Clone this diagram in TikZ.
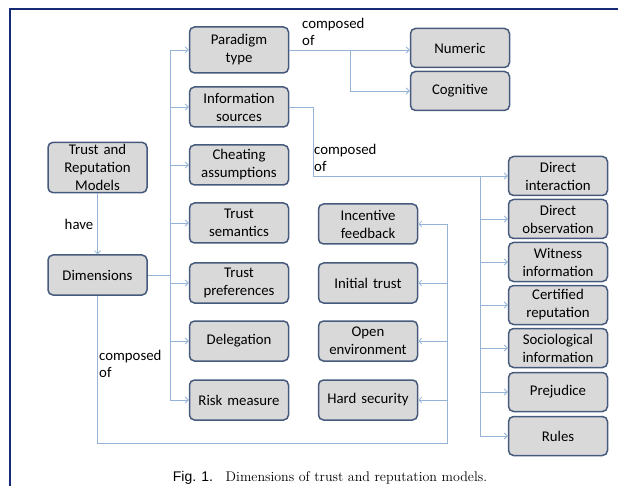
\documentclass[tikz,border=0pt]{standalone}
\usepackage{fontspec}
\setsansfont{Carlito}
\newfontfamily\figfont{Liberation Sans}
\usetikzlibrary{arrows.meta}
\definecolor{boxfill}{RGB}{217,217,217}
\definecolor{boxline}{RGB}{70,90,125}
\definecolor{linkblue}{RGB}{149,179,215}
\definecolor{framenavy}{RGB}{22,42,118}
\tikzset{
    dimbox/.style={draw=boxline, fill=boxfill, line width=1.5pt, rounded corners=5pt,
        minimum width=99pt, minimum height=40pt, text width=94pt, align=center,
        inner sep=2pt, font=\sffamily\fontsize{14.8}{18}\selectfont},
    link/.style={draw=linkblue, line width=0.8pt},
    arr/.style={link, -{Straight Barb[length=3pt,width=6pt]}},
    lbl/.style={font=\sffamily\fontsize{14.8}{17}\selectfont, align=left, inner sep=0pt},
}
\begin{document}
\begin{tikzpicture}[x=1pt, y=-1pt]
        \useasboundingbox (0,0) rectangle (618,486);
        \draw[framenavy, line width=2.5pt] (10,486) -- (10,9) -- (618,9);
        % left column
        \node[dimbox] (trm) at (97.5,167.5) {Trust and\\Reputation\\Models};
        \node[dimbox] (dim) at (97.5,275) {Dimensions};
        % dimensions
        \node[dimbox, minimum height=46pt] (para) at (239,50) {Paradigm\\type};
        \node[dimbox] (info) at (239,107) {Information\\sources};
        \node[dimbox] (cheat) at (239,165) {Cheating\\assumptions};
        \node[dimbox] (sem) at (239,223) {Trust\\semantics};
        \node[dimbox] (pref) at (239,283) {Trust\\preferences};
        \node[dimbox] (deleg) at (239,341) {Delegation};
        \node[dimbox] (risk) at (239,400) {Risk measure};
        % paradigm types
        \node[dimbox, minimum height=39pt] (num) at (460,48) {Numeric};
        \node[dimbox, minimum height=39pt] (cog) at (460,91) {Cognitive};
        % middle column
        \node[dimbox] (incent) at (368,224) {Incentive\\feedback};
        \node[dimbox] (inittr) at (368,283) {Initial trust};
        \node[dimbox] (openenv) at (368,341) {Open\\environment};
        \node[dimbox] (hard) at (368,400) {Hard security};
        % information sources
        \node[dimbox, minimum height=39pt] (dint) at (558,176) {Direct\\interaction};
        \node[dimbox, minimum height=39pt] (dobs) at (558,219) {Direct\\observation};
        \node[dimbox, minimum height=39pt] (wit) at (558,262) {Witness\\information};
        \node[dimbox, minimum height=39pt] (cert) at (558,305) {Certified\\reputation};
        \node[dimbox, minimum height=39pt] (soc) at (558,348) {Sociological\\information};
        \node[dimbox, minimum height=39pt] (prej) at (558,392) {Prejudice};
        \node[dimbox, minimum height=39pt] (rules) at (558,436) {Rules};

        \draw[arr] (trm) -- (dim);
        \node[lbl] (have) at (79,224) {have};

        \coordinate (jl) at (170,275);
        \draw[link] (dim.east) -- (jl);
        \draw[link] (jl |- para) -- (jl |- risk);
        \foreach \n in {para,info,cheat,sem,pref,deleg,risk}
            \draw[arr] (jl |- \n) -- (\n.west);

        \draw[arr] (para.east) -- (para.east -| num.west);
        \coordinate (jp) at (350,50);
        \draw[arr] (jp) |- (cog.west);
        \node[lbl, anchor=south west] (compa) at (302,46) {composed\\of};

        \coordinate (ji) at (313,176);
        \draw[arr] (info.east) -| (ji) -- (dint.west);
        \coordinate (jr) at (480,176);
        \draw[link] (jr) -- (jr |- rules);
        \foreach \n in {dobs,wit,cert,soc,prej,rules}
            \draw[arr] (jr |- \n) -- (\n.west);
        \node[lbl, anchor=south west] (compb) at (314,172) {composed\\of};

        \coordinate (jb) at (447,443);
        \draw[link] (dim.south) |- (jb) -- (jb |- incent);
        \foreach \n in {incent,inittr,openenv,hard}
            \draw[arr] (jb |- \n) -- (\n.east);
        \node[lbl, anchor=north west] (compc) at (99,350) {composed\\of};

        \node[font=\fontsize{14}{16}\selectfont, anchor=base] (cap) at (330,481)
            {{\figfont Fig. 1.}\hspace{0.9em}Dimensions of trust and reputation models.};
    \end{tikzpicture}
\end{document}
